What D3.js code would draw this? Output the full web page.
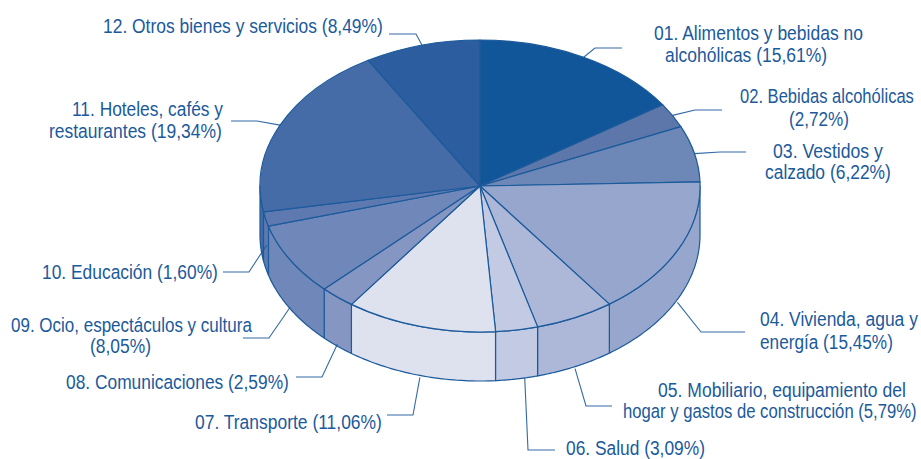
<!DOCTYPE html>
<html><head><meta charset="utf-8">
<script src="https://cdn.jsdelivr.net/npm/d3@7/dist/d3.min.js"></script>
<style>html,body{margin:0;background:#fff}svg{display:block}</style></head>
<body><svg width="921" height="459"></svg>
<script>
const categories = ["01","02","03","04","05","06","07","08","09","10","11","12"];
const values = [15.61,2.72,6.22,15.45,5.79,3.09,11.06,2.59,8.05,1.60,19.34,8.49];
const labelLines = [
 ["01. Alimentos y bebidas no","alcohólicas (15,61%)"],
 ["02. Bebidas alcohólicas","(2,72%)"],
 ["03. Vestidos y","calzado (6,22%)"],
 ["04. Vivienda, agua y","energía (15,45%)"],
 ["05. Mobiliario, equipamiento del","hogar y gastos de construcción (5,79%)"],
 ["06. Salud (3,09%)"],
 ["07. Transporte (11,06%)"],
 ["08. Comunicaciones (2,59%)"],
 ["09. Ocio, espectáculos y cultura","(8,05%)"],
 ["10. Educación (1,60%)"],
 ["11. Hoteles, cafés y","restaurantes (19,34%)"],
 ["12. Otros bienes y servicios (8,49%)"]
];
const colors = ["#12569a","#5d77ab","#6d87b7","#96a6cd","#adb8d8","#c3cae3","#dee1ee","#8596c3","#6f88b9","#5e79b0","#466ca8","#2c5d9e"];
// layout: [left, right, baseline] for each line of each label
const labelPos = [
 [[654,863,40],[665,827,62]],[[740,914,103],[789,849,126]],[[773,883,158],[765,891,179]],
 [[760,918,326],[760,893,349]],[[658,906,397],[623,917,418]],[[566,705,455]],[[195,382,429]],
 [[66,289,389]],[[11,252,332],[90,151,353]],[[42,218,279]],[[72,223,116],[49,222,138]],[[103,383,33]]
];
const leaders = [
 [[595,48],[622,48]],[[695,110],[722,110]],[[720,152],[746,152]],[[701,332],[745,332]],
 [[586,406],[612,406]],[[528,450],[555,450]],[[413,415],[387,415]],[[322,377],[296,377]],
 [[269,338],[243,338]],[[249,272],[223,272]],[[257,121],[231,121]],[[416,34],[389,34]]
];
// leader start offset from the slice's rim point
const leaderNudge = [[0,0],[0,0],[0,0],[0,3],[0,2],[8,-1],[0,2],[0,-2],[0,-2],[1,-23],[0,0],[0,0]];
const ink="#1b5a9b", fontW="'Liberation Sans', Arial, sans-serif";
const cx=480, cy=186, rx=220, ry=146, depth=49;
const svg=d3.select("svg");
const pie=d3.pie().sort(null).startAngle(0).endAngle(2*Math.PI);
const arcs=pie(values);
const px=a=>cx+rx*Math.sin(a), py=a=>cy-ry*Math.cos(a);
const line=d3.line();
const rim=(a0,a1,dy)=>d3.range(0,41).map(i=>{const a=a0+(a1-a0)*i/40;return [px(a),py(a)+dy];});
// walls
const H=Math.PI/2, E=3*Math.PI/2;
arcs.forEach((d,i)=>{
  const a0=Math.max(d.startAngle,H), a1=Math.min(d.endAngle,E);
  if(a1<=a0) return;
  const pts=rim(a0,a1,0).concat(rim(a1,a0,depth));
  svg.append("path").attr("d",line(pts)+"Z").attr("fill",colors[i]).attr("stroke",ink).attr("stroke-width",1.2).attr("stroke-linejoin","round");
});
// top
const arc=d3.arc().innerRadius(0).outerRadius(1);
svg.append("g").selectAll("path").data(arcs).join("path")
 .attr("transform",`translate(${cx},${cy}) scale(${rx},${ry})`)
 .attr("d",arc).attr("fill",(d,i)=>colors[i]).attr("stroke",ink).attr("stroke-width",1.2)
 .attr("vector-effect","non-scaling-stroke").attr("stroke-linejoin","round");
// leaders
arcs.forEach((d,i)=>{
  const m=(d.startAngle+d.endAngle)/2;
  const front=m>H&&m<E;
  const start=[px(m)+leaderNudge[i][0],py(m)+(front?depth:0)+leaderNudge[i][1]];
  svg.append("path").attr("d",line([start,...leaders[i]])).attr("fill","none").attr("stroke",ink).attr("stroke-width",1.1).attr("opacity",.9);
});
// labels
labelLines.forEach((ls,i)=>{
  ls.forEach((t,j)=>{
    const [l,r,b]=labelPos[i][j];
    const txt=svg.append("text").attr("font-family",fontW).attr("font-size",19.5).attr("fill",ink).text(t);
    const k=(r-l)/txt.node().getComputedTextLength();
    txt.attr("transform",`translate(${l},${b}) scale(${k},1)`);
  });
});
</script></body></html>
